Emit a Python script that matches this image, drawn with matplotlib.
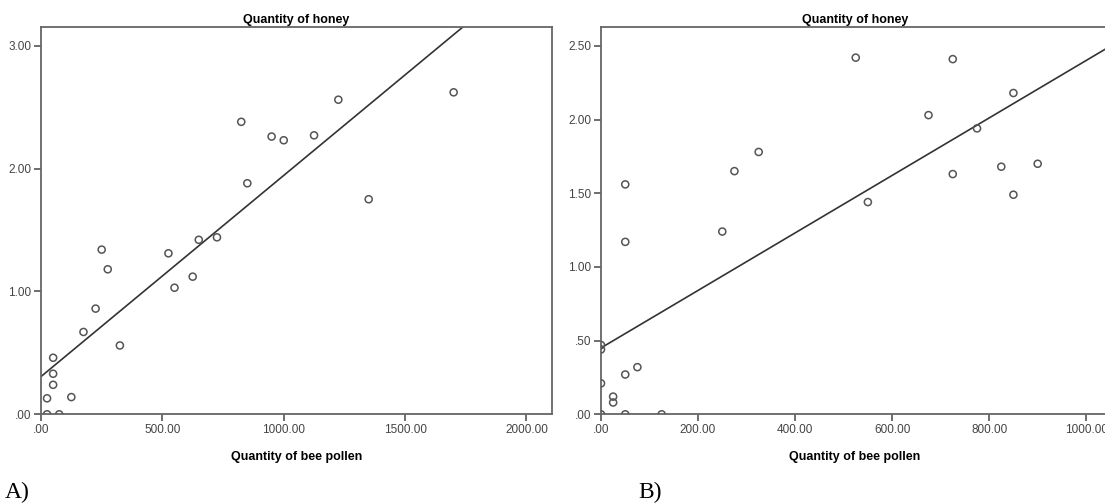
import numpy as np
import matplotlib.pyplot as plt
from matplotlib.ticker import FuncFormatter

plt.rcParams['font.family'] = ['Liberation Sans', 'DejaVu Sans']

# Panel A - honey vs bee pollen
pollen_a = [825, 950, 1000, 850, 650, 725, 250, 525, 275, 550, 625, 225, 175,
            325, 50, 50, 50, 25, 125, 25, 75, 1125, 1225, 1700, 1350]
honey_a = [2.38, 2.26, 2.23, 1.88, 1.42, 1.44, 1.34, 1.31, 1.18, 1.03, 1.12, 0.86, 0.67,
           0.56, 0.46, 0.33, 0.24, 0.13, 0.14, 0.00, 0.00, 2.27, 2.56, 2.62, 1.75]

# Panel B
pollen_b = [525, 325, 275, 50, 250, 50, 725, 850, 675, 775, 725, 825, 900, 850, 550,
            0, 0, 0, 0, 50, 75, 25, 25, 50, 125]
honey_b = [2.42, 1.78, 1.65, 1.56, 1.24, 1.17, 2.41, 2.18, 2.03, 1.94, 1.63, 1.68, 1.70, 1.49, 1.44,
           0.47, 0.44, 0.21, 0.00, 0.27, 0.32, 0.12, 0.08, 0.00, 0.00]


def spss_fmt(v, pos):
    s = '%.2f' % v
    if s.startswith('0.'):
        s = s[1:]
    return s


fig = plt.figure(figsize=(11.05, 5.04), dpi=100)
axA = fig.add_axes([41 / 1105, 1 - 414.3 / 504, 510.7 / 1105, 387.6 / 504])
axB = fig.add_axes([601 / 1105, 1 - 414.3 / 504, 508 / 1105, 387.6 / 504])

panels = [
    (axA, pollen_a, honey_a, (0, 2104), (0, 3.154), [0, 500, 1000, 1500, 2000], [0, 1, 2, 3]),
    (axB, pollen_b, honey_b, (0, 1047), (0, 2.63), [0, 200, 400, 600, 800, 1000],
     [0, 0.5, 1.0, 1.5, 2.0, 2.5]),
]

for ax, x, y, xl, yl, xt, yt in panels:
    x = np.array(x, dtype=float)
    y = np.array(y)
    ax.scatter(x, y, s=26, facecolors='none', edgecolors='#555555', linewidths=1.1, zorder=3)
    # linear fit line (SPSS style)
    k, b = np.polyfit(x, y, 1)
    xx = np.array(xl, dtype=float)
    ax.plot(xx, k * xx + b, color='#333333', lw=1.2, zorder=2)
    ax.set_xlim(xl)
    ax.set_ylim(yl)
    ax.set_xticks(xt)
    ax.set_yticks(yt)
    ax.xaxis.set_major_formatter(FuncFormatter(spss_fmt))
    ax.yaxis.set_major_formatter(FuncFormatter(spss_fmt))
    ax.tick_params(direction='out', length=5, width=1.2, color='#555555',
                   labelsize=8.5, labelcolor='#444444', pad=2)
    for sp in ax.spines.values():
        sp.set_color('#666666')
        sp.set_linewidth(1.3)
    ax.set_title('Quantity of honey', fontsize=9, fontweight='bold', pad=3)
    ax.set_xlabel('Quantity of bee pollen', fontsize=9, fontweight='bold', labelpad=11)

fig.text(5 / 1105, 1 - 492 / 504, 'A)', family='Liberation Serif', fontsize=17, va='center')
fig.text(638 / 1105, 1 - 492 / 504, 'B)', family='Liberation Serif', fontsize=17, va='center')

fig.savefig('out.png', dpi=100)
